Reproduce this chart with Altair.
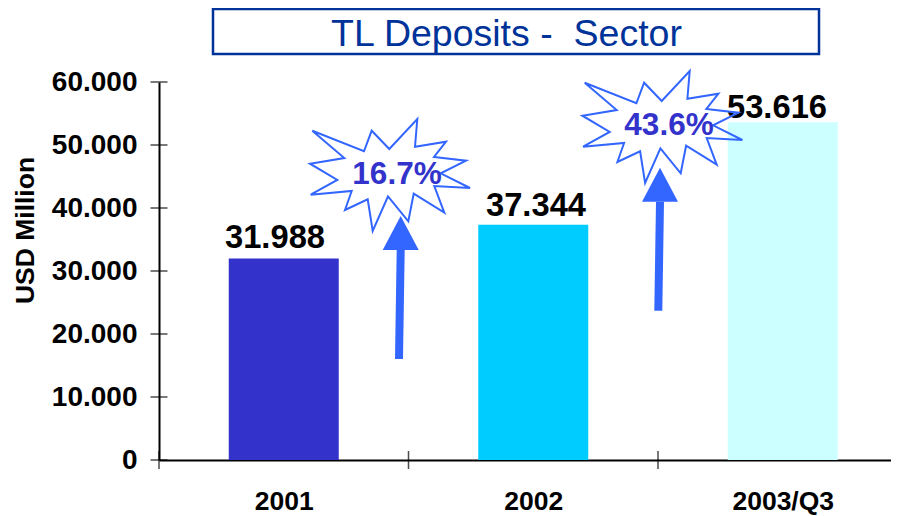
import altair as alt
import pandas as pd

# ---- data ----
categories = ["2001", "2002", "2003/Q3"]
deposits = [31988, 37344, 53616]
value_labels = ["31.988", "37.344", "53.616"]
bar_colors = ["#3333CC", "#00CCFF", "#CCFFFF"]
growth_labels = ["16.7%", "43.6%"]

# ---- layout (reference pixels) ----
FONT = "Liberation Sans"
LEFT, BASE, TOP = 159, 460, 82      # page pixels of the plot frame
BAND = 249.5
PLOT_W, PLOT_H = 732, BASE - TOP
YMAX = 60000
BLUE = "#3366FF"
NAVY = "#003399"
INK = "#3333CC"


def bx(px):
    return (px - LEFT) / BAND


def vy(py):
    return (BASE - py) * YMAX / PLOT_H


centers = [0.5, 1.5, 2.5]
label_px = [(275, 248), (536, 216), (777, 118)]
bars = pd.DataFrame({
    "cat": categories, "pos": centers, "v": deposits, "label": value_labels,
    "color": bar_colors,
    "lx": [bx(p[0]) for p in label_px],
    "ly": [vy(p[1]) for p in label_px],
})

xs = alt.Scale(domain=[0, PLOT_W / BAND], nice=False, zero=False, padding=0)
ys = alt.Scale(domain=[0, YMAX], nice=False, padding=0)
X_LABELS = "[" + ",".join(f"'{c}'" for c in categories) + "][floor(datum.value)]"

bar_layer = alt.Chart(bars).mark_bar(size=110).encode(
    x=alt.X("pos:Q", scale=xs, axis=alt.Axis(
        values=centers, labelExpr=X_LABELS, title=None, ticks=False, grid=False,
        domainColor="black", domainWidth=2, labelColor="black", labelFont=FONT,
        labelFontWeight="bold", labelFontSize=26.5, labelPadding=41,
        labelBaseline="middle")),
    y=alt.Y("v:Q", scale=ys, axis=alt.Axis(
        values=list(range(0, YMAX + 1, 10000)),
        labelExpr="replace(format(datum.value, ','), ',', '.')",
        title="USD Million", titleFont=FONT, titleFontWeight="bold",
        titleFontSize=26.5, titleColor="black", titleX=-134, titleY=148,
        titleAngle=270, titleAlign="center", titleBaseline="middle",
        ticks=False, grid=False, domainColor="black", domainWidth=2,
        labelColor="black", labelFont=FONT, labelFontWeight="bold",
        labelFontSize=28, labelPadding=22)),
    color=alt.Color("color:N", scale=None),
)

y_ticks = alt.Chart(pd.DataFrame({"v": list(range(0, YMAX + 1, 10000)), "p": [0.0] * 7})).mark_tick(
    orient="horizontal", size=17, thickness=1.5, color="black"
).encode(x=alt.X("p:Q", scale=xs), y=alt.Y("v:Q", scale=ys))

x_ticks = alt.Chart(pd.DataFrame({"p": [0.0, 1.0, 2.0], "v": [0, 0, 0]})).mark_tick(
    orient="vertical", size=18, thickness=1.5, color="black"
).encode(x=alt.X("p:Q", scale=xs), y=alt.Y("v:Q", scale=ys))

value_text = alt.Chart(bars).mark_text(
    font=FONT, fontWeight="bold", fontSize=32.7, color="black", baseline="alphabetic", align="center"
).encode(x=alt.X("lx:Q", scale=xs), y=alt.Y("ly:Q", scale=ys), text="label:N")

# starburst outline, as pixel offsets from its centre (size=4 makes path units = px)
star_pts = [(312.3, 130.7), (364, 151.3), (371.7, 130.7), (389.3, 149), (417.3, 119),
            (415, 146.7), (446, 141.7), (434, 157), (466, 160.7), (440.7, 173.3),
            (470, 188), (434.3, 186), (444.3, 212.7), (413.7, 193.7), (408.3, 221.3),
            (388, 196.3), (372.7, 231), (367.7, 199.3), (345, 210), (351.7, 191),
            (310.7, 194.7), (337.3, 180), (310, 163.7), (344.3, 158)]
SC = (390, 175)
star_path = "M" + " L".join(f"{x - SC[0]:.1f} {y - SC[1]:.1f}" for x, y in star_pts) + " Z"
stars = pd.DataFrame({
    "x": [bx(390), bx(662.4)], "y": [vy(175), vy(127)],
    "label": growth_labels,
    "tx": [bx(397), bx(669)], "ty": [vy(175), vy(126)],
})
star_layer = alt.Chart(stars).mark_point(
    shape=star_path, size=4, filled=False, stroke=BLUE, strokeWidth=2, opacity=1
).encode(x=alt.X("x:Q", scale=xs), y=alt.Y("y:Q", scale=ys))

pct_text = alt.Chart(stars).mark_text(
    font=FONT, fontWeight="bold", fontSize=31.5, color=INK, baseline="middle", align="center"
).encode(x=alt.X("tx:Q", scale=xs), y=alt.Y("ty:Q", scale=ys), text="label:N")

arrows = pd.DataFrame({
    "x": [bx(399), bx(658.3)], "y": [vy(359), vy(310.7)],
    "x2": [bx(400.7), bx(660)], "y2": [vy(250), vy(201.7)],
})
shaft = alt.Chart(arrows).mark_rule(strokeWidth=8, color=BLUE).encode(
    x=alt.X("x:Q", scale=xs), y=alt.Y("y:Q", scale=ys), x2="x2:Q", y2="y2:Q"
)
# arrow head: offsets from the middle of its base
head = alt.Chart(arrows).mark_point(
    shape="M-18 0 L0 -34 L18 0 Z", size=4, filled=True, fill=BLUE, stroke=BLUE,
    strokeWidth=0, opacity=1
).encode(x=alt.X("x2:Q", scale=xs), y=alt.Y("y2:Q", scale=ys))

title_box = alt.Chart(pd.DataFrame({"a": [0]})).mark_rect(
    fill="white", stroke=NAVY, strokeWidth=2.5
).encode(x=alt.value(213 - LEFT), x2=alt.value(819 - LEFT),
         y=alt.value(9 - TOP), y2=alt.value(54 - TOP))

title_text = alt.Chart(pd.DataFrame({"t": ["TL Deposits -\u00a0 Sector"]})).mark_text(
    font=FONT, fontSize=37.5, color=NAVY, align="center", baseline="alphabetic"
).encode(x=alt.value(506.5 - LEFT), y=alt.value(46 - TOP), text="t:N")

chart = alt.layer(
    title_box, title_text, bar_layer, y_ticks, x_ticks, value_text, shaft, head, star_layer, pct_text
).properties(
    width=PLOT_W, height=PLOT_H,
    autosize=alt.AutoSizeParams(type="none"),
    padding={"left": LEFT - 8, "top": TOP - 8, "right": 0, "bottom": 55},
).configure_view(stroke=None)

chart.save("out.html", embed_options={"renderer": "svg", "actions": False})
